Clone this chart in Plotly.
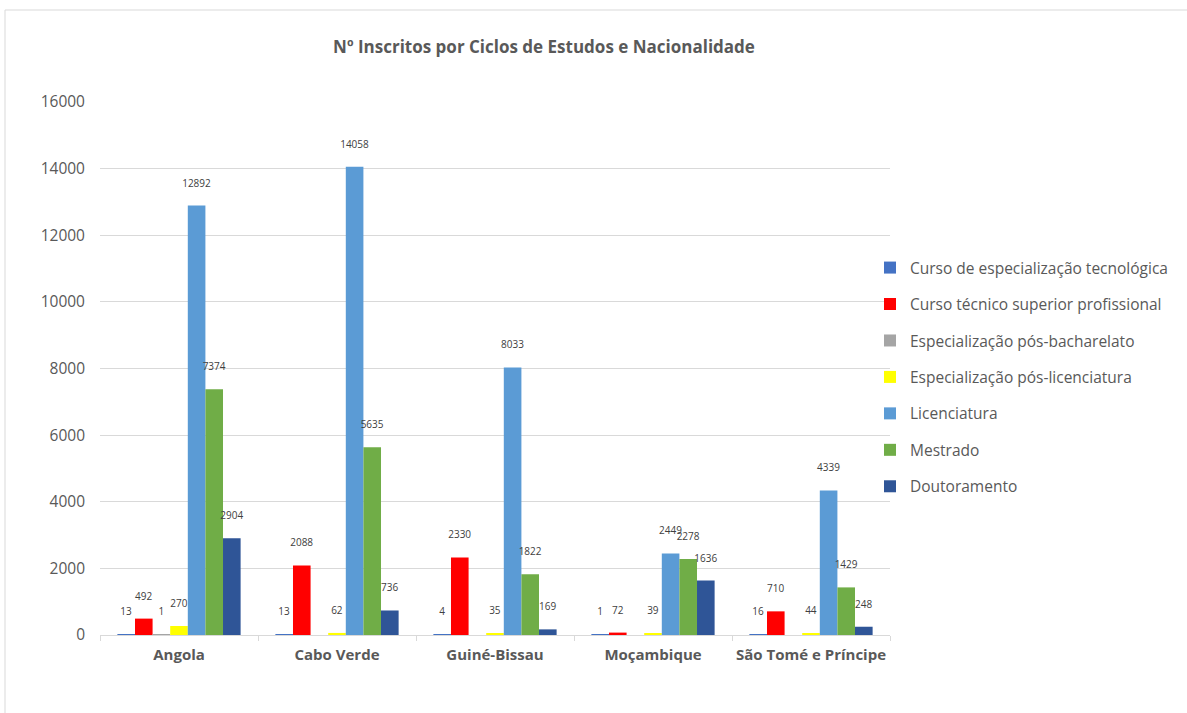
import plotly.graph_objects as go

countries = ["Angola", "Cabo Verde", "Guiné-Bissau", "Moçambique", "São Tomé e Príncipe"]
series_names = [
    "Curso de especialização tecnológica",
    "Curso técnico superior profissional",
    "Especialização pós-bacharelato",
    "Especialização pós-licenciatura",
    "Licenciatura",
    "Mestrado",
    "Doutoramento",
]
cet = [13, 13, 4, 1, 16]
ctesp = [492, 2088, 2330, 72, 710]
esp_bach = [1, None, None, None, None]
esp_lic = [270, 62, 35, 39, 44]
licenciatura = [12892, 14058, 8033, 2449, 4339]
mestrado = [7374, 5635, 1822, 2278, 1429]
doutoramento = [2904, 736, 169, 1636, 248]
y_ticks = [0, 2000, 4000, 6000, 8000, 10000, 12000, 14000, 16000]

values = [cet, ctesp, esp_bach, esp_lic, licenciatura, mestrado, doutoramento]
colors = ["#4472C4", "#FF0000", "#A5A5A5", "#FFFF00", "#5B9BD5", "#70AD47", "#2F5597"]

fig = go.Figure()
for i, (name, vals, col) in enumerate(zip(series_names, values, colors)):
    fig.add_trace(go.Bar(
        name=name, x=countries, y=vals,
        marker=dict(color=col, line=dict(width=0)),
        text=[("" if v is None else str(v)) for v in vals],
        texttemplate="%{text}<br> ",
        textposition="outside",
        constraintext="none",
        cliponaxis=False,
        textfont=dict(family="Open Sans", size=10, color="#404040"),
        legendgroup=f"g{i}",
    ))

L, R, T, B = 100, 297, 102, 78
PW, PH = 1187 - L - R, 713 - T - B

fig.update_layout(
    width=1187, height=713,
    margin=dict(l=L, r=R, t=T, b=B, autoexpand=False),
    paper_bgcolor="white", plot_bgcolor="white",
    barmode="group", bargap=0.22, bargroupgap=0,
    title=dict(text="<b>Nº Inscritos por Ciclos de Estudos e Nacionalidade</b>",
               x=(544) / 1187, xanchor="center", y=1 - 47 / 713, yanchor="middle",
               font=dict(family="Open Sans", size=17, color="#595959")),
    legend=dict(x=(870 - L) / PW, xanchor="left", y=(635 - 251) / PH, yanchor="top",
                font=dict(family="Open Sans", size=15.5, color="#595959"),
                traceorder="grouped", tracegroupgap=13.3, itemwidth=30,
                bgcolor="rgba(0,0,0,0)"),
    xaxis=dict(showgrid=False, showline=True, linecolor="#D9D9D9", linewidth=1,
               ticks="outside", tickson="boundaries", ticklen=5, tickcolor="#D9D9D9",
               tickangle=0, automargin=False, ticklabelstandoff=6,
               tickfont=dict(family="Open Sans", size=15, color="#595959"),
               fixedrange=True),
    yaxis=dict(range=[0, 16000], tickvals=y_ticks, ticktext=[str(v) for v in y_ticks],
               showgrid=True, gridcolor="#D9D9D9", automargin=False,
               gridwidth=1, zeroline=False, showline=False, ticks="",
               ticklabelstandoff=14,
               tickfont=dict(family="Open Sans", size=15.5, color="#595959")),
    showlegend=True,
)
fig.update_xaxes(ticktext=[f"<b>{c}</b>" for c in countries], tickvals=countries)

# outer chart border
fig.add_shape(type="rect", xref="paper", yref="paper",
              x0=(5 - L) / PW, x1=(1300 - L) / PW, y0=(635 - 800) / PH, y1=(635 - 10) / PH,
              line=dict(color="#D9D9D9", width=1), fillcolor="rgba(0,0,0,0)", layer="below")

fig.write_html("out.html")
